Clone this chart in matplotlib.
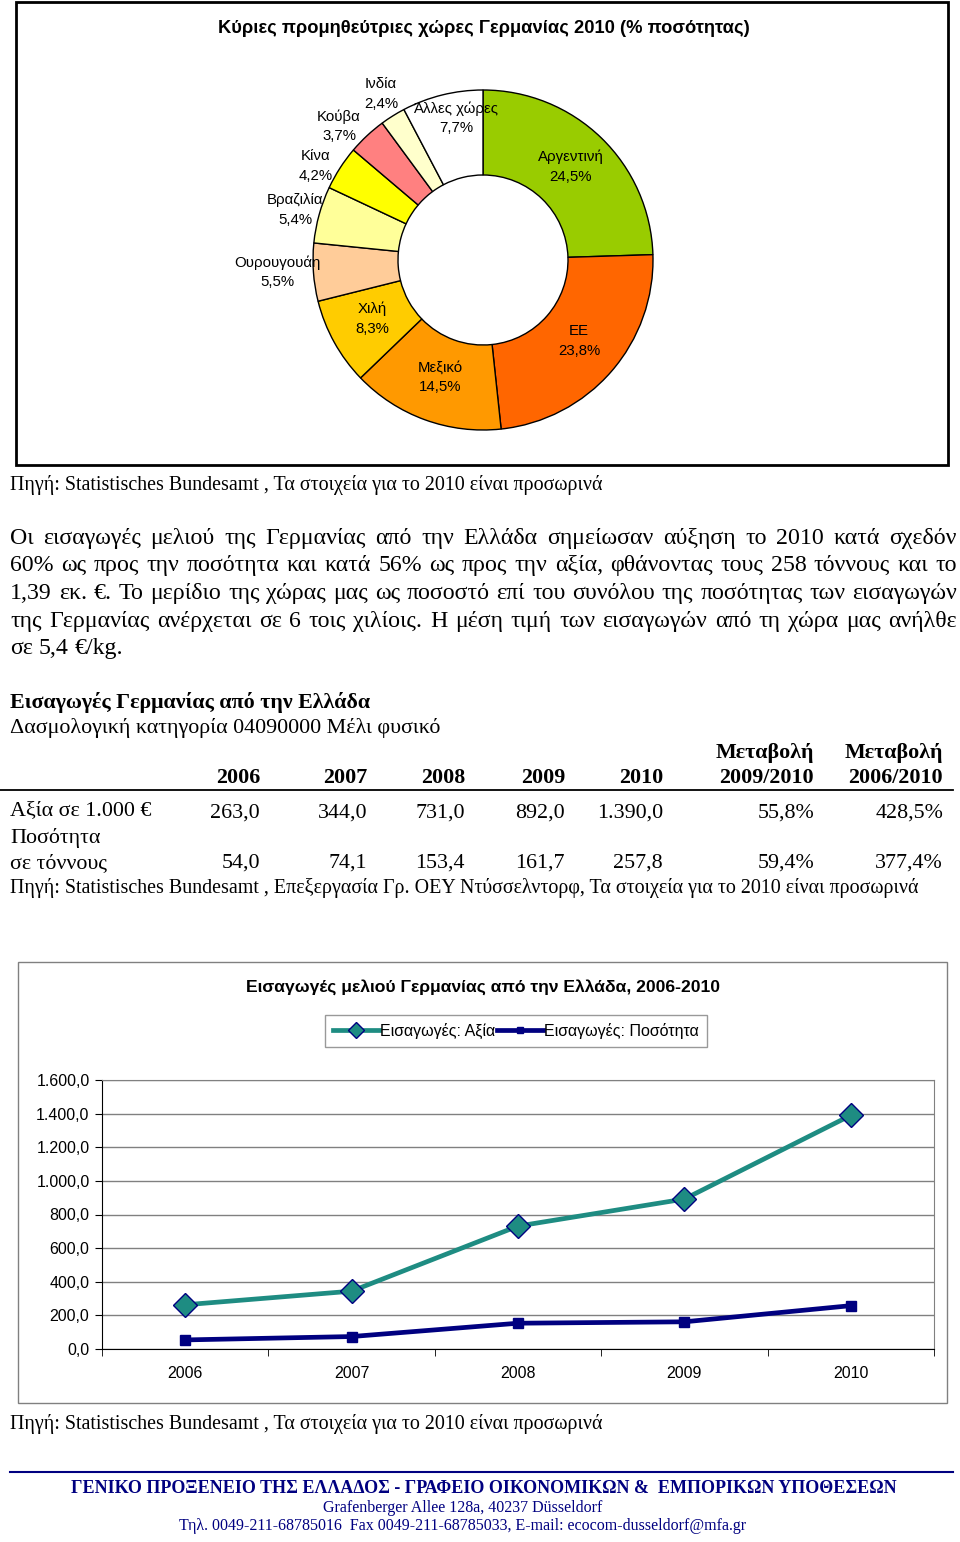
import matplotlib
matplotlib.use('Agg')
import matplotlib.pyplot as plt
from matplotlib.patches import Rectangle
from matplotlib.ticker import FixedLocator, FuncFormatter

SERIF = 'Liberation Serif'
SANS = 'Liberation Sans'

# --- δεδομένα πίτας (προμηθεύτριες χώρες 2010, % ποσότητας)
countries = ['Αργεντινή', 'ΕΕ', 'Μεξικό', 'Χιλή', 'Ουρουγουάη', 'Βραζιλία',
             'Κίνα', 'Κούβα', 'Ινδία', 'Άλλες χώρες']
shares = [24.5, 23.8, 14.5, 8.3, 5.5, 5.4, 4.2, 3.7, 2.4, 7.7]
pie_colors = ['#99CC00', '#FF6600', '#FF9900', '#FFCC00', '#FFCC99',
              '#FFFF99', '#FFFF00', '#FF8080', '#FFFFCC', '#FFFFFF']

# --- δεδομένα πίνακα / γραμμής
years = ['2006', '2007', '2008', '2009', '2010']
value_keur = [263.0, 344.0, 731.0, 892.0, 1390.0]
qty_tonnes = [54.0, 74.1, 153.4, 161.7, 257.8]
value_change = ['55,8%', '428,5%']
qty_change = ['59,4%', '377,4%']
y_ticks = [0, 200, 400, 600, 800, 1000, 1200, 1400, 1600]

paragraph = [
    'Οι εισαγωγές μελιού της Γερμανίας από την Ελλάδα σημείωσαν αύξηση το 2010 κατά σχεδόν',
    '60% ως προς την ποσότητα και κατά 56% ως προς την αξία, φθάνοντας τους 258 τόννους και το',
    '1,39 εκ. €. Το μερίδιο της χώρας μας ως ποσοστό επί του συνόλου της ποσότητας των εισαγωγών',
    'της Γερμανίας ανέρχεται σε 6 τοις χιλίοις. Η μέση τιμή των εισαγωγών από τη χώρα μας ανήλθε',
    'σε 5,4 €/kg.',
]


def num(v, dec=1):
    s = f'{v:,.{dec}f}'
    return s.replace(',', 'X').replace('.', ',').replace('X', '.')


W, H = 960, 1542
fig = plt.figure(figsize=(W / 100, H / 100), dpi=100)
fig.patch.set_facecolor('white')

# πλαίσιο σελίδας σε pixel (πάνω από τα υπόλοιπα axes)
page = fig.add_axes([0, 0, 1, 1])
page.set_xlim(0, W)
page.set_ylim(H, 0)
page.axis('off')
page.set_zorder(10)


def px(x, y):
    return x / W, 1 - y / H


# ---------------- πίτα
page.add_patch(Rectangle((16, 2), 932, 463, fill=False, lw=2, ec='black'))
page.text(484, 33, 'Κύριες προμηθεύτριες χώρες Γερμανίας 2010 (% ποσότητας)',
          family=SANS, fontsize=13.2, fontweight='bold', ha='center', va='baseline')

cx, cy, r = 483, 260, 170
pax = fig.add_axes([(cx - r) / W, 1 - (cy + r) / H, 2 * r / W, 2 * r / H])
pax.pie(shares, colors=pie_colors, startangle=90, counterclock=False,
        wedgeprops=dict(width=0.5, edgecolor='black', linewidth=1))
pax.set_xlim(-1, 1)
pax.set_ylim(-1, 1)
pax.axis('off')

label_pos = [(571, 167), (579, 341), (440, 377), (372, 319), (277, 272),
             (295, 210), (316, 166), (339, 126), (381, 94), (456, 118)]
for name, s, (lx, ly) in zip(countries, shares, label_pos):
    page.text(lx, ly, name + '\n' + num(s) + '%', family=SANS, fontsize=10.8,
              ha='center', va='center', linespacing=1.5)

page.text(10, 490, 'Πηγή: Statistisches Bundesamt , Τα στοιχεία για το 2010 είναι προσωρινά',
          family=SERIF, fontsize=14.4, va='baseline')

# ---------------- κείμενο με πλήρη στοίχιση
renderer = fig.canvas.get_renderer()


def justify(y, line, x0, x1, size, last=False):
    words = line.split(' ')
    texts = [page.text(0, y, w, family=SERIF, fontsize=size, va='baseline') for w in words]
    widths = [t.get_window_extent(renderer).width for t in texts]
    if last or len(words) < 2:
        gap = size * 0.35
    else:
        gap = (x1 - x0 - sum(widths)) / (len(words) - 1)
    x = x0
    for t, w in zip(texts, widths):
        t.set_x(x)
        x += w + gap


para_base = [544, 571, 599, 627, 654]
for i, (line, yb) in enumerate(zip(paragraph, para_base)):
    justify(yb, line, 10, 957, 17.2, last=(i == len(paragraph) - 1))

page.text(10, 708, 'Εισαγωγές Γερμανίας από την Ελλάδα', family=SERIF,
          fontsize=15.8, fontweight='bold', va='baseline')
page.text(10, 733, 'Δασμολογική κατηγορία 04090000 Μέλι φυσικό', family=SERIF,
          fontsize=15.8, va='baseline')

# ---------------- πίνακας
col_right = [260, 367, 465, 565, 663, 814, 943]
tsize = 15.8
for yr, xr in zip(years, col_right):
    page.text(xr, 783, yr, family=SERIF, fontsize=tsize, fontweight='bold',
              ha='right', va='baseline')
for lbl, xr in zip(['2009/2010', '2006/2010'], col_right[5:]):
    page.text(xr, 758, 'Μεταβολή', family=SERIF, fontsize=tsize, fontweight='bold',
              ha='right', va='baseline')
    page.text(xr, 783, lbl, family=SERIF, fontsize=tsize, fontweight='bold',
              ha='right', va='baseline')
page.plot([0, 953], [790, 790], color='black', lw=1.3)

page.text(10, 815, 'Αξία σε 1.000 €', family=SERIF, fontsize=tsize, va='baseline')
for v, xr in zip(value_keur, col_right):
    page.text(xr, 818, num(v), family=SERIF, fontsize=tsize, ha='right', va='baseline')
for v, xr in zip(value_change, col_right[5:]):
    page.text(xr, 818, v, family=SERIF, fontsize=tsize, ha='right', va='baseline')

page.text(10, 843, 'Ποσότητα', family=SERIF, fontsize=tsize, va='baseline')
page.text(10, 868, 'σε τόννους', family=SERIF, fontsize=tsize, va='baseline')
for v, xr in zip(qty_tonnes, col_right):
    page.text(xr, 868, num(v), family=SERIF, fontsize=tsize, ha='right', va='baseline')
for v, xr in zip(qty_change, col_right[5:]):
    page.text(xr, 868, v, family=SERIF, fontsize=tsize, ha='right', va='baseline')

page.text(10, 893, 'Πηγή: Statistisches Bundesamt , Επεξεργασία Γρ. ΟΕΥ Ντύσσελντορφ, '
          'Τα στοιχεία για το 2010 είναι προσωρινά', family=SERIF, fontsize=14.4, va='baseline')

# ---------------- διάγραμμα γραμμών
page.add_patch(Rectangle((18, 962), 929, 441, fill=False, lw=1, ec='#808080'))
page.text(483, 992, 'Εισαγωγές μελιού Γερμανίας από την Ελλάδα, 2006-2010',
          family=SANS, fontsize=12.6, fontweight='bold', ha='center', va='baseline')

teal = '#1E8C82'
navy = '#000080'
x0, x1, ytop, ybot = 102, 934, 1080, 1349
lax = fig.add_axes([x0 / W, 1 - ybot / H, (x1 - x0) / W, (ybot - ytop) / H])
xs = list(range(len(years)))
l1, = lax.plot(xs, value_keur, color=teal, lw=3.4, marker='D', ms=12,
               mfc=teal, mec=navy, mew=1, label='Εισαγωγές: Αξία', zorder=3)
l2, = lax.plot(xs, qty_tonnes, color=navy, lw=3.4, marker='s', ms=7.5,
               mfc=navy, mec=navy, label='Εισαγωγές: Ποσότητα', zorder=3)
lax.set_xlim(-0.5, len(years) - 0.5)
lax.set_ylim(0, 1600)
lax.set_xticks(xs)
lax.set_xticklabels(years)
lax.xaxis.set_minor_locator(FixedLocator([i - 0.5 for i in range(len(years) + 1)]))
lax.tick_params(axis='x', which='major', length=0, pad=12)
lax.tick_params(axis='x', which='minor', length=5, direction='out', color='black')
lax.set_yticks(y_ticks)
lax.yaxis.set_major_formatter(FuncFormatter(lambda v, p: num(v)))
lax.tick_params(axis='y', length=5, direction='out', pad=4)
for lab in lax.get_xticklabels() + lax.get_yticklabels():
    lab.set_family(SANS)
    lab.set_fontsize(11.5)
lax.grid(axis='y', color='#808080', lw=1)
lax.set_axisbelow(True)
for side in ['top', 'right']:
    lax.spines[side].set_color('#808080')
for side in ['left', 'bottom']:
    lax.spines[side].set_color('black')

leg = fig.legend(handles=[l1, l2], loc='center', bbox_to_anchor=px(516, 1031), ncol=2,
                 prop={'family': SANS, 'size': 11.5}, frameon=True, fancybox=False,
                 edgecolor='#808080', handlelength=2.9, handletextpad=0.05,
                 columnspacing=0.1, borderpad=0.5, markerscale=0.65)
leg.get_frame().set_linewidth(1)

page.text(10, 1429, 'Πηγή: Statistisches Bundesamt , Τα στοιχεία για το 2010 είναι προσωρινά',
          family=SERIF, fontsize=14.4, va='baseline')

# ---------------- υποσέλιδο
page.plot([10, 953], [1472, 1472], color=navy, lw=1.5)
page.text(484, 1493, 'ΓΕΝΙΚΟ ΠΡΟΞΕΝΕΙΟ ΤΗΣ ΕΛΛΑΔΟΣ - ΓΡΑΦΕΙΟ ΟΙΚΟΝΟΜΙΚΩΝ &  ΕΜΠΟΡΙΚΩΝ ΥΠΟΘΕΣΕΩΝ',
          family=SERIF, fontsize=13, fontweight='bold', color=navy, ha='center', va='baseline')
page.text(463, 1512, 'Grafenberger Allee 128a, 40237 Düsseldorf',
          family=SERIF, fontsize=11.5, color=navy, ha='center', va='baseline')
page.text(463, 1530, 'Τηλ. 0049-211-68785016  Fax 0049-211-68785033, E-mail: ecocom-dusseldorf@mfa.gr',
          family=SERIF, fontsize=11.5, color=navy, ha='center', va='baseline')

fig.savefig('out.png', dpi=100)
